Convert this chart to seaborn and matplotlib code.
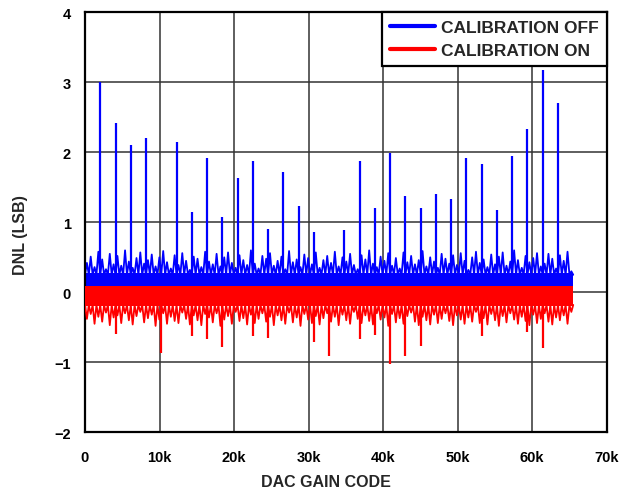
import numpy as np
import pandas as pd
import matplotlib
matplotlib.use("Agg")
import matplotlib.pyplot as plt
import seaborn as sns

# DNL vs DAC gain code, calibration off / on

# major blue spikes (every 2048 codes)
off_spike_codes = [2048, 4096, 6144, 8192, 12288, 14336, 16384, 18432, 20480,
                   22528, 24576, 26624, 28672, 30720, 34816, 36864, 38912,
                   40960, 43008, 45056, 47104, 49152, 51200, 53248, 55296,
                   57344, 59392, 61440, 63488]
off_spike_dnl = [3.01, 2.42, 2.10, 2.20, 2.15, 1.15, 1.92, 1.07, 1.63,
                 1.88, 0.90, 1.72, 1.23, 0.86, 0.89, 1.88, 1.20,
                 1.99, 1.37, 1.21, 1.41, 1.33, 1.92, 1.84, 1.17,
                 1.95, 2.34, 3.17, 2.70]

# major red dips
on_spike_codes = [4096, 10240, 14336, 16384, 18432, 22528, 24576, 30720,
                  32768, 36864, 38912, 40960, 43008, 45056, 53248, 59392, 61440]
on_spike_dnl = [-0.60, -0.86, -0.63, -0.66, -0.78, -0.63, -0.65, -0.71,
                -0.91, -0.66, -0.61, -1.02, -0.91, -0.77, -0.62, -0.56, -0.80]

# noise envelope, one value per 512 codes (estimated from the band)
off_noise_peak = [
    0.42, 0.51, 0.36, 0.58, 0.47, 0.33, 0.55, 0.40,
    0.52, 0.38, 0.60, 0.44, 0.35, 0.49, 0.57, 0.41,
    0.46, 0.54, 0.37, 0.50, 0.59, 0.43, 0.34, 0.53,
    0.39, 0.56, 0.45, 0.32, 0.51, 0.48, 0.36, 0.58,
    0.44, 0.40, 0.55, 0.37, 0.50, 0.57, 0.42, 0.35,
    0.53, 0.46, 0.39, 0.60, 0.41, 0.34, 0.52, 0.48,
    0.56, 0.38, 0.45, 0.51, 0.33, 0.59, 0.43, 0.47,
    0.36, 0.54, 0.49, 0.40, 0.57, 0.35, 0.46, 0.52,
    0.42, 0.58, 0.37, 0.50, 0.44, 0.55, 0.39, 0.33,
    0.53, 0.47, 0.60, 0.41, 0.36, 0.51, 0.45, 0.56,
    0.38, 0.49, 0.34, 0.57, 0.43, 0.52, 0.40, 0.46,
    0.59, 0.37, 0.50, 0.44, 0.35, 0.55, 0.48, 0.41,
    0.53, 0.39, 0.56, 0.45, 0.32, 0.50, 0.58, 0.42,
    0.47, 0.36, 0.54, 0.40, 0.51, 0.57, 0.38, 0.44,
    0.60, 0.46, 0.35, 0.52, 0.43, 0.49, 0.56, 0.37,
    0.41, 0.55, 0.48, 0.34, 0.53, 0.45, 0.58, 0.30,
]
on_noise_dip = [
    -0.38, -0.31, -0.45, -0.35, -0.42, -0.29, -0.47, -0.36,
    -0.33, -0.44, -0.30, -0.40, -0.46, -0.34, -0.28, -0.43,
    -0.37, -0.32, -0.48, -0.39, -0.30, -0.45, -0.35, -0.41,
    -0.44, -0.29, -0.38, -0.46, -0.33, -0.40, -0.47, -0.31,
    -0.36, -0.43, -0.30, -0.48, -0.39, -0.34, -0.45, -0.28,
    -0.41, -0.37, -0.46, -0.32, -0.44, -0.38, -0.30, -0.42,
    -0.35, -0.47, -0.33, -0.40, -0.45, -0.29, -0.43, -0.36,
    -0.48, -0.31, -0.39, -0.44, -0.34, -0.46, -0.37, -0.30,
    -0.42, -0.35, -0.47, -0.32, -0.40, -0.45, -0.28, -0.38,
    -0.44, -0.33, -0.41, -0.46, -0.30, -0.39, -0.36, -0.48,
    -0.31, -0.43, -0.37, -0.45, -0.34, -0.29, -0.42, -0.47,
    -0.35, -0.40, -0.46, -0.32, -0.44, -0.38, -0.30, -0.41,
    -0.47, -0.33, -0.39, -0.45, -0.36, -0.42, -0.28, -0.44,
    -0.37, -0.46, -0.31, -0.40, -0.48, -0.34, -0.43, -0.30,
    -0.39, -0.45, -0.35, -0.41, -0.47, -0.32, -0.44, -0.38,
    -0.30, -0.42, -0.46, -0.36, -0.40, -0.33, -0.45, -0.28,
]
off_core = (0.0, 0.27)     # solid part of the blue band
on_core = (-0.20, 0.09)    # solid part of the red band
last_code = 65535

x_ticks = [0, 10000, 20000, 30000, 40000, 50000, 60000, 70000]
x_tick_labels = ["0", "10k", "20k", "30k", "40k", "50k", "60k", "70k"]
y_ticks = [-2, -1, 0, 1, 2, 3, 4]


def zigzag(peaks, base):
    # alternate base / peak points along the code axis
    n = len(peaks)
    xs, ys = [], []
    for i in range(n):
        xs += [i * 512, i * 512 + 256]
        ys += [base, peaks[i]]
    xs.append(last_code)
    ys.append(base)
    return pd.DataFrame({"code": xs, "dnl": ys})


sns.set_theme(style="white")
plt.rcParams["font.family"] = ["Liberation Sans", "DejaVu Sans"]
plt.rcParams["font.weight"] = "bold"

fig = plt.figure(figsize=(6.19, 4.89), dpi=100)
ax = fig.add_axes([85 / 619, 1 - 433.3 / 489, 521.5 / 619, 420 / 489])

off_df = zigzag(off_noise_peak, 0.25)
on_df = zigzag(on_noise_dip, -0.18)

# calibration off (blue)
ax.fill_between([0, last_code], off_core[0], off_core[1], color="#0000ff", lw=0, zorder=2)
sns.lineplot(data=off_df, x="code", y="dnl", estimator=None, color="#0000ff",
             lw=1.3, ax=ax, label="CALIBRATION OFF", zorder=2)
ax.vlines(off_spike_codes, 0, off_spike_dnl, color="#0000ff", lw=1.6, zorder=2)

# calibration on (red)
ax.fill_between([0, last_code], on_core[0], on_core[1], color="#ff0000", lw=0, zorder=3)
sns.lineplot(data=on_df, x="code", y="dnl", estimator=None, color="#ff0000",
             lw=1.3, ax=ax, label="CALIBRATION ON", zorder=3)
ax.vlines(on_spike_codes, on_spike_dnl, 0, color="#ff0000", lw=1.6, zorder=3)

ax.set_xlim(0, 70000)
ax.set_ylim(-2, 4)
ax.set_xticks(x_ticks)
ax.set_xticklabels(x_tick_labels)
ax.set_yticks(y_ticks)
ax.tick_params(axis="both", length=0, labelsize=10.5, colors="black")
ax.tick_params(axis="x", pad=13)
ax.tick_params(axis="y", pad=10)
for lab in ax.get_xticklabels() + ax.get_yticklabels():
    lab.set_fontweight("bold")

ax.grid(True, color="#333333", lw=1.1)
ax.set_axisbelow(True)
for sp in ax.spines.values():
    sp.set_color("black")
    sp.set_linewidth(1.6)

ax.set_xlabel("DAC GAIN CODE", fontsize=11.5, fontweight="bold")
ax.set_ylabel("DNL (LSB)", fontsize=11.5, fontweight="bold")
ax.xaxis.set_label_coords(0.462, -0.099)
ax.yaxis.set_label_coords(-0.11, 0.472)

leg = ax.legend(loc="upper right", borderaxespad=0, frameon=True, fancybox=False,
                framealpha=1, edgecolor="black", prop={"size": 12.5, "weight": "bold"},
                handlelength=2.6, handletextpad=0.35, borderpad=0.45, labelspacing=0.42)
leg.get_frame().set_linewidth(1.6)
leg.set_zorder(5)
for h in leg.get_lines():
    h.set_linewidth(3)

fig.savefig("out.png", dpi=100)
